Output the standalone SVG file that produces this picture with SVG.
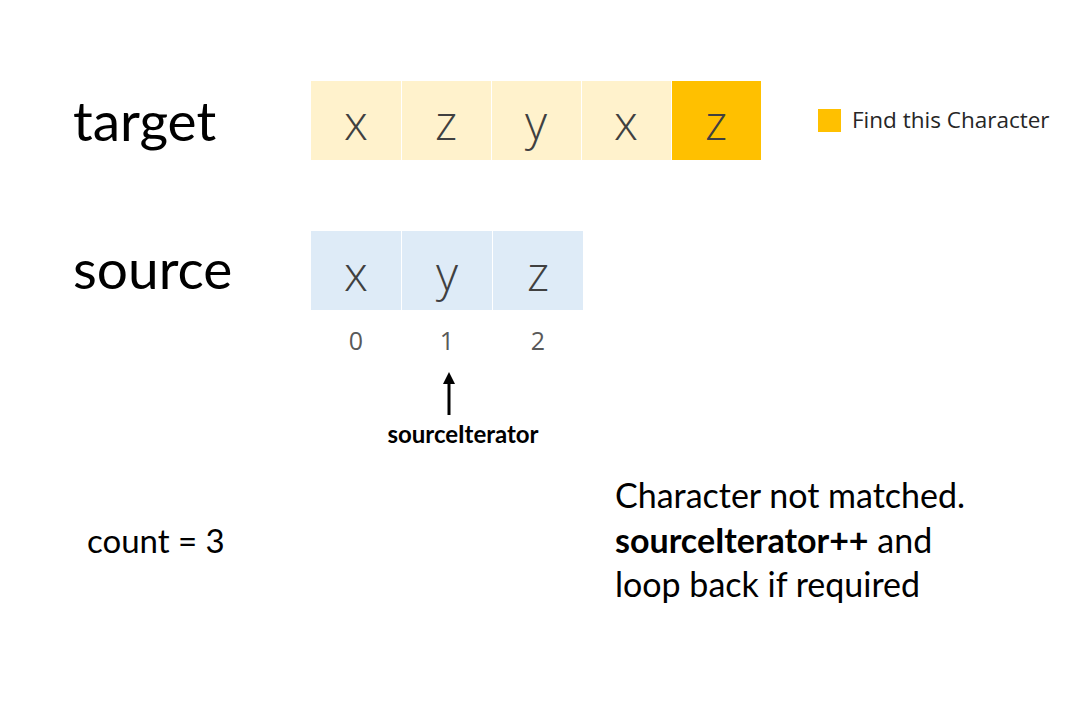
<svg xmlns="http://www.w3.org/2000/svg" width="1073" height="720" viewBox="0 0 1073 720">
  <style>
    .label { font-family: Lato, "Liberation Sans", sans-serif; fill: #000; }
    .cell-t { fill: #FFF2CC; }
    .cell-hl { fill: #FFC000; }
    .cell-s { fill: #DEEBF7; }
    .glyph { font-family: "Open Sans", "DejaVu Sans", sans-serif; font-size: 48px; fill: #404040; text-anchor: middle; font-weight: 300; }
    .idx { font-family: "Open Sans", "DejaVu Sans", sans-serif; font-size: 25px; fill: #595959; text-anchor: middle; }
  </style>
  <defs>
    <marker id="arrowhead" markerWidth="4" markerHeight="4" refX="2" refY="2" orient="auto" markerUnits="strokeWidth">
      <path d="M0,0 L4,2 L0,4 Z" fill="#000"/>
    </marker>
  </defs>
  <rect width="1073" height="720" fill="#fff"/>

  <!-- row labels -->
  <g id="label-target"><text class="label" x="73" y="141" font-size="55">target</text></g>
  <g id="label-source"><text class="label" x="73" y="289" font-size="55">source</text></g>

  <!-- target array -->
  <g id="target-0"><rect class="cell-t" x="311" y="81" width="90" height="79"/><text class="glyph" x="356" y="140">x</text></g>
  <g id="target-1"><rect class="cell-t" x="402" y="81" width="89" height="79"/><text class="glyph" x="446" y="140">z</text></g>
  <g id="target-2"><rect class="cell-t" x="492" y="81" width="89" height="79"/><text class="glyph" x="536" y="140">y</text></g>
  <g id="target-3"><rect class="cell-t" x="582" y="81" width="89" height="79"/><text class="glyph" x="626" y="140">x</text></g>
  <g id="target-4"><rect class="cell-hl" x="672" y="81" width="89" height="79"/><text class="glyph" x="716" y="140">z</text></g>

  <!-- legend -->
  <g id="legend">
    <rect class="cell-hl" x="818" y="109" width="23" height="23"/>
    <text x="852" y="128" font-family="'Open Sans', 'DejaVu Sans', sans-serif" font-size="22.5" fill="#262626">Find this Character</text>
  </g>

  <!-- source array -->
  <g id="source-0"><rect class="cell-s" x="311" y="231" width="90" height="79"/><text class="glyph" x="356" y="291">x</text></g>
  <g id="source-1"><rect class="cell-s" x="402" y="231" width="90" height="79"/><text class="glyph" x="447" y="291">y</text></g>
  <g id="source-2"><rect class="cell-s" x="493" y="231" width="90" height="79"/><text class="glyph" x="538" y="291">z</text></g>

  <!-- indices -->
  <g id="indices">
    <text class="idx" x="356" y="350">0</text>
    <text class="idx" x="447" y="350">1</text>
    <text class="idx" x="538" y="350">2</text>
  </g>

  <!-- iterator pointer -->
  <g id="connectors">
    <line x1="449" y1="415" x2="449" y2="378" stroke="#000" stroke-width="3" marker-end="url(#arrowhead)"/>
  </g>
  <g id="iterator-label">
    <text class="label" x="463" y="443" font-size="24" font-weight="bold" text-anchor="middle">sourceIterator</text>
  </g>

  <!-- counter -->
  <g id="count"><text class="label" x="87" y="553" font-size="33">count = 3</text></g>

  <!-- status note -->
  <g id="note">
    <text class="label" font-size="34">
      <tspan x="615" y="508">Character not matched.</tspan>
      <tspan x="615" y="553"><tspan font-weight="bold">sourceIterator++</tspan> and</tspan>
      <tspan x="615" y="597">loop back if required</tspan>
    </text>
  </g>
</svg>
